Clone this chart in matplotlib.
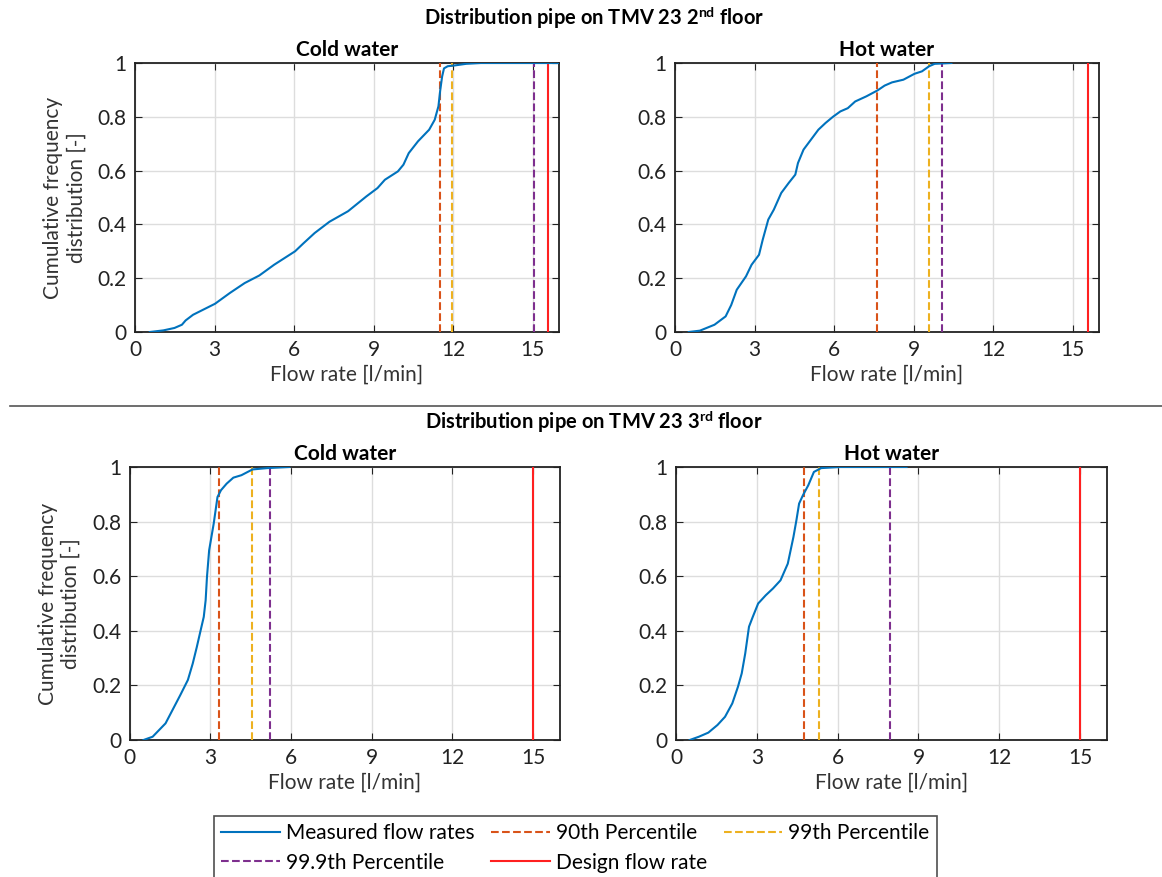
import matplotlib
matplotlib.use("Agg")
import matplotlib.pyplot as plt
from matplotlib.lines import Line2D
import numpy as np

plt.rcParams['font.family'] = ['Lato', 'DejaVu Sans']
plt.rcParams['mathtext.fontset'] = 'custom'
plt.rcParams['mathtext.rm'] = 'Lato'
plt.rcParams['mathtext.bf'] = 'Lato:bold'

# cumulative distributions (flow in l/min, fraction)
cold_2nd_flow = [0.56, 1.07, 1.49, 1.77, 1.91, 2.19, 3.02, 3.58, 4.14, 4.69, 5.25, 6.04, 6.36,
                 6.78, 7.34, 8.04, 8.73, 9.15, 9.43, 9.92, 10.13, 10.33, 10.68, 11.1, 11.31,
                 11.45, 11.52, 11.59, 11.66, 11.8, 12.07, 12.5, 13.05, 16.5]
cold_2nd_cdf = [0, 0.006, 0.015, 0.027, 0.043, 0.064, 0.105, 0.145, 0.182, 0.21, 0.25, 0.30, 0.33,
                0.368, 0.41, 0.449, 0.504, 0.535, 0.566, 0.597, 0.622, 0.665, 0.709, 0.752, 0.789,
                0.839, 0.90, 0.95, 0.98, 0.988, 0.991, 0.997, 1.0, 1.0]

hot_2nd_flow = [0.52, 0.94, 1.49, 1.91, 2.12, 2.33, 2.68, 2.89, 3.17, 3.31, 3.52, 3.73, 4.01,
                4.29, 4.54, 4.64, 4.85, 5.13, 5.41, 5.68, 5.96, 6.24, 6.52, 6.80, 7.22, 7.64,
                7.91, 8.19, 8.62, 9.04, 9.32, 9.59, 9.8, 10.43]
hot_2nd_cdf = [0, 0.005, 0.027, 0.058, 0.10, 0.157, 0.207, 0.25, 0.287, 0.343, 0.418, 0.455, 0.517,
               0.554, 0.585, 0.628, 0.678, 0.715, 0.752, 0.777, 0.80, 0.82, 0.832, 0.857, 0.876,
               0.898, 0.916, 0.928, 0.938, 0.96, 0.969, 0.988, 0.997, 1.0]

cold_3rd_flow = [0.52, 0.86, 1.34, 1.89, 2.17, 2.35, 2.50, 2.64, 2.76, 2.83, 2.88, 2.96, 3.13, 3.27,
                 3.40, 3.61, 3.86, 4.16, 4.57, 5.12, 5.94]
cold_3rd_cdf = [0, 0.012, 0.061, 0.165, 0.22, 0.28, 0.34, 0.40, 0.451, 0.512, 0.598, 0.695, 0.793,
                0.89, 0.915, 0.939, 0.961, 0.97, 0.991, 0.996, 1.0]

hot_3rd_flow = [0.51, 0.85, 1.20, 1.54, 1.82, 2.09, 2.30, 2.44, 2.57, 2.71, 2.85, 3.05, 3.33,
                3.60, 3.88, 4.15, 4.36, 4.47, 4.57, 4.71, 4.91, 5.12, 5.39, 6.08, 8.56]
hot_3rd_cdf = [0, 0.012, 0.027, 0.055, 0.085, 0.134, 0.195, 0.244, 0.317, 0.415, 0.451, 0.50, 0.53,
               0.555, 0.585, 0.646, 0.744, 0.805, 0.866, 0.896, 0.933, 0.982, 0.996, 1.0, 1.0]

# percentiles: 90th, 99th, 99.9th and design flow rate
p90 = [11.52, 7.63, 3.33, 4.74]
p99 = [11.98, 9.60, 4.54, 5.30]
p999 = [15.05, 10.08, 5.24, 7.95]
design = [15.6, 15.6, 15.0, 15.0]

panel_titles = ["Cold water", "Hot water", "Cold water", "Hot water"]
floor_titles = [r"Distribution pipe on TMV 23 2$^{\mathbf{nd}}$ floor",
                r"Distribution pipe on TMV 23 3$^{\mathbf{rd}}$ floor"]
legend_labels = ["Measured flow rates", "90th Percentile", "99th Percentile",
                 "99.9th Percentile", "Design flow rate"]
x_ticks = [0, 3, 6, 9, 12, 15]
y_ticks = [0, 0.2, 0.4, 0.6, 0.8, 1]

BLUE = "#0072BD"
ORANGE = "#D95319"
YELLOW = "#EDB120"
PURPLE = "#7E2F8E"
RED = "#FF2020"

W, H = 1162, 877
# axes boxes in pixels: left, top, right, bottom
boxes = [(135, 63, 559, 332), (675, 63, 1099, 332),
         (129.5, 467, 560, 740), (676, 467, 1107, 740)]

curves = [(cold_2nd_flow, cold_2nd_cdf), (hot_2nd_flow, hot_2nd_cdf),
          (cold_3rd_flow, cold_3rd_cdf), (hot_3rd_flow, hot_3rd_cdf)]

fig = plt.figure(figsize=(W / 100, H / 100), dpi=100)

for i, (l, t, r, b) in enumerate(boxes):
    ax = fig.add_axes([l / W, 1 - b / H, (r - l) / W, (b - t) / H])
    flow, cdf = curves[i]
    ax.plot(flow, cdf, color=BLUE, lw=1.5, zorder=5)
    ax.axvline(p90[i], color=ORANGE, ls="--", lw=1.5, zorder=4)
    ax.axvline(p99[i], color=YELLOW, ls="--", lw=1.5, zorder=4)
    ax.axvline(p999[i], color=PURPLE, ls="--", lw=1.5, zorder=4)
    ax.axvline(design[i], color=RED, ls="-", lw=1.5, zorder=4)

    ax.set_xlim(0, 16)
    ax.set_ylim(0, 1)
    ax.set_xticks(x_ticks)
    ax.set_yticks(y_ticks)
    ax.set_yticklabels(["%g" % v for v in y_ticks])
    ax.grid(True, color="#dddddd", lw=1)
    ax.set_axisbelow(True)
    ax.tick_params(direction="in", top=True, right=True, labelsize=15, length=5,
                   colors="#222222", pad=6)
    for s in ax.spines.values():
        s.set_linewidth(1.3)
        s.set_color("#222222")
    ax.set_title(panel_titles[i], fontsize=15, fontweight="bold", pad=5)
    ax.set_xlabel("Flow rate [l/min]", fontsize=15, color="#333333", labelpad=3)
    if i % 2 == 0:
        ax.set_ylabel("Cumulative frequency\ndistribution [-]", fontsize=15, color="#333333",
                      labelpad=8)

fig.text(594 / W, 1 - 18 / H, floor_titles[0], ha="center", va="center",
         fontsize=14.5, fontweight="bold")
fig.text(594 / W, 1 - 422 / H, floor_titles[1], ha="center", va="center",
         fontsize=14.5, fontweight="bold")
fig.add_artist(Line2D([10 / W, 1], [1 - 406 / H, 1 - 406 / H], color="#555555", lw=1.2))

handles = [Line2D([], [], color=BLUE, lw=1.5),
           Line2D([], [], color=ORANGE, ls="--", lw=1.5),
           Line2D([], [], color=YELLOW, ls="--", lw=1.5),
           Line2D([], [], color=PURPLE, ls="--", lw=1.5),
           Line2D([], [], color=RED, lw=1.5)]
order = [0, 3, 1, 4, 2]
leg = fig.legend([handles[k] for k in order], [legend_labels[k] for k in order],
                 ncol=3, loc="upper left", bbox_to_anchor=(214 / W, 1 - 816 / H),
                 fontsize=15, frameon=True, fancybox=False, handlelength=2.8,
                 handletextpad=0.3, columnspacing=0.8, borderpad=0.35, labelspacing=0.45,
                 borderaxespad=0)
leg.get_frame().set_edgecolor("#222222")
leg.get_frame().set_linewidth(1.2)

fig.savefig("out.png", dpi=100)
